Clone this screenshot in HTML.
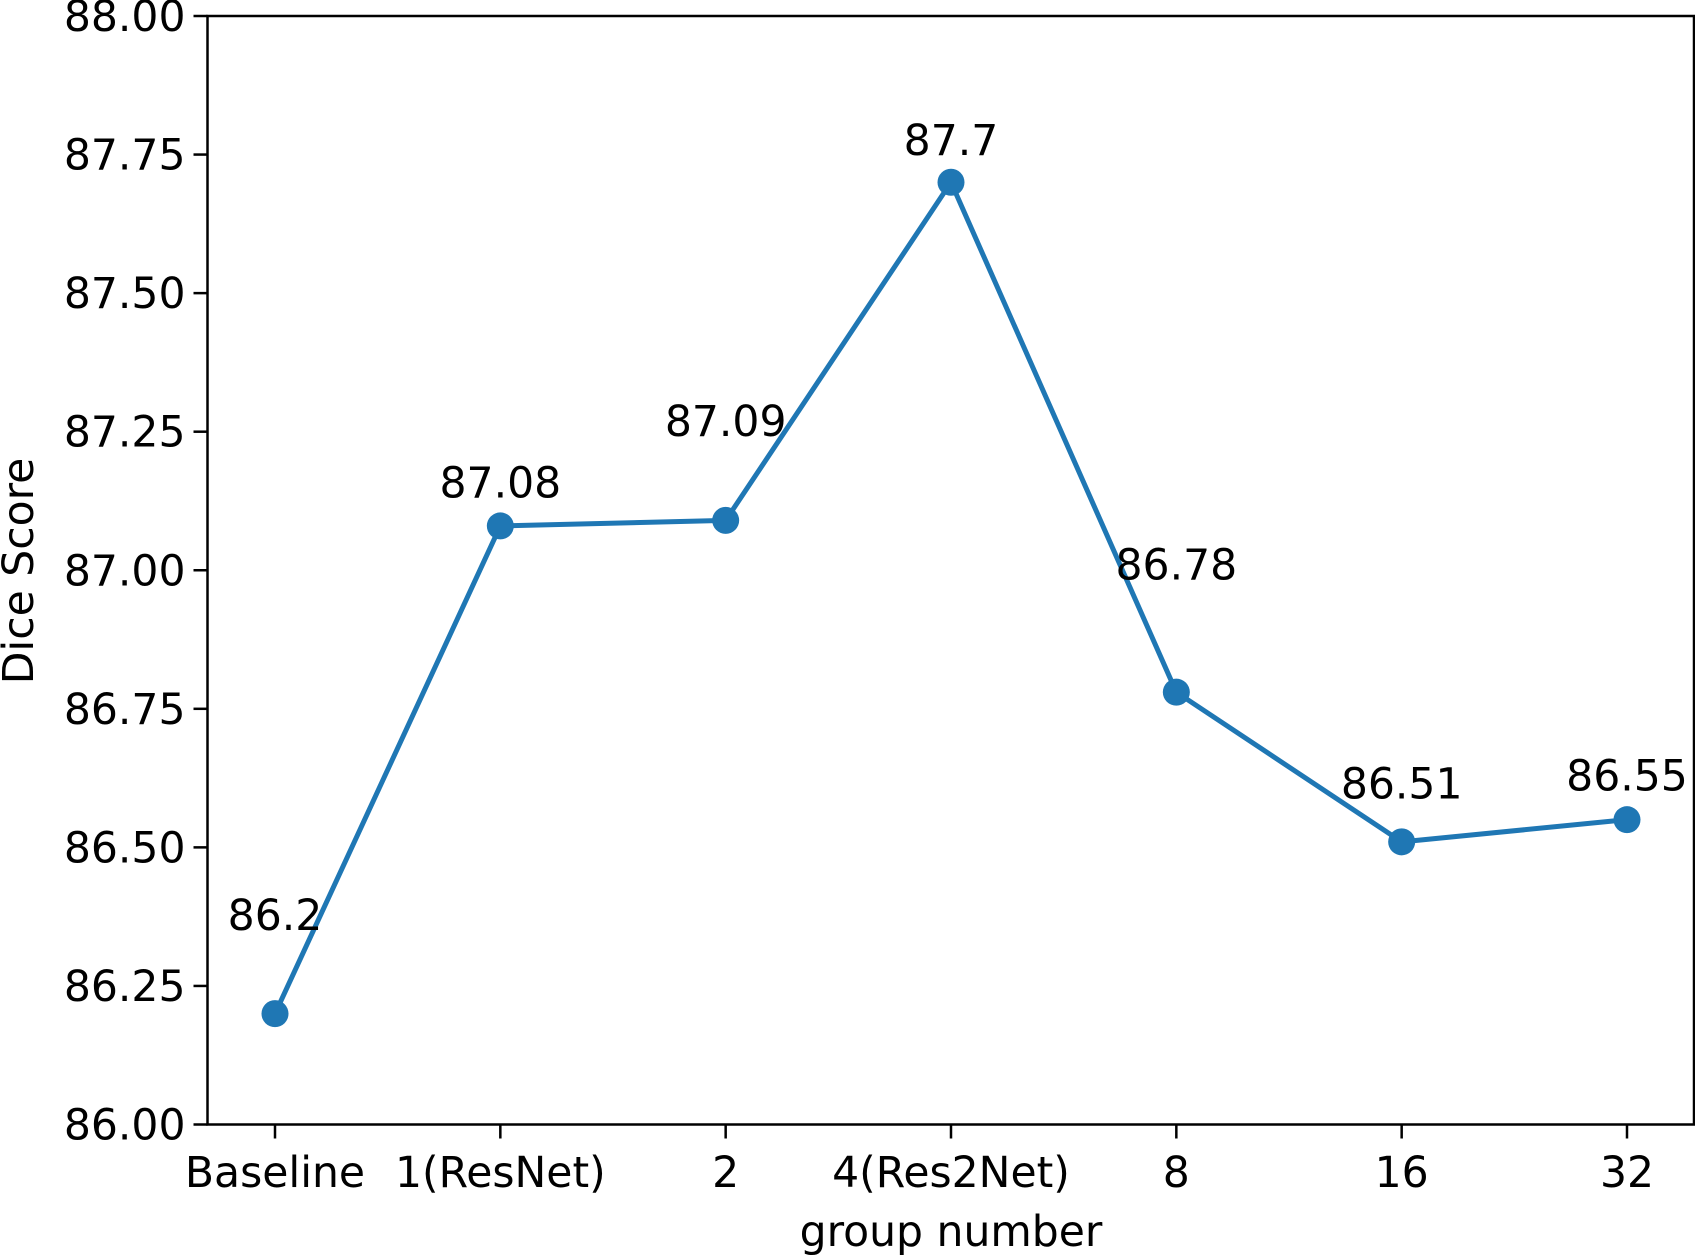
<!DOCTYPE html>
<html><head><meta charset="utf-8"><style>
html,body{margin:0;padding:0;background:#fff;}
svg{display:block;font-family:"DejaVu Sans","Liberation Sans",sans-serif;}
</style></head><body>
<svg id="chart" width="1695" height="1255" viewBox="0 0 1695 1255" xmlns="http://www.w3.org/2000/svg"></svg>
<script>
const categories = ["Baseline","1(ResNet)","2","4(Res2Net)","8","16","32"];
const diceValues = [86.2,87.08,87.09,87.7,86.78,86.51,86.55];
const valueLabels = ["86.2","87.08","87.09","87.7","86.78","86.51","86.55"];
const labelYData = [86.347,87.128,87.239,87.746,86.98,86.585,86.599];
const yTicks = [86.00,86.25,86.50,86.75,87.00,87.25,87.50,87.75,88.00];
const yTickLabels = ["86.00","86.25","86.50","86.75","87.00","87.25","87.50","87.75","88.00"];

const L=207.5,R=1694,T=16,B=1124.5, X0=275, X1=1627;
const yMin=86, yMax=88;
const sx=i=>X0+(X1-X0)*i/(categories.length-1);
const sy=v=>B-(v-yMin)/(yMax-yMin)*(B-T);
const svg=document.getElementById('chart');
const NS='http://www.w3.org/2000/svg';
function mk(tag,attrs,text){const e=document.createElementNS(NS,tag);for(const k in attrs)e.setAttribute(k,attrs[k]);if(text!==undefined)e.textContent=text;svg.appendChild(e);return e;}

yTicks.forEach((v,i)=>{
  const t=mk('line',{x1:L-14,x2:L,y1:sy(v),y2:sy(v),stroke:'#000','stroke-width':2.5});
  
  
  const lb=mk('text',{x:L-22,y:sy(v)+15,'text-anchor':'end','font-size':42.5},yTickLabels[i]);
  
  
});
categories.forEach((c,i)=>{
  const t=mk('line',{x1:sx(i),x2:sx(i),y1:B,y2:B+14,stroke:'#000','stroke-width':2.5});
  
  
  const lb=mk('text',{x:sx(i),y:1187,'text-anchor':'middle','font-size':42.5},c);
  
  
});
const frame=mk('rect',{x:L,y:T,width:R-L,height:B-T,fill:'none',stroke:'#000','stroke-width':2.5});



const pts=diceValues.map((v,i)=>sx(i)+','+sy(v)).join(' ');
const line=mk('polyline',{points:pts,fill:'none',stroke:'#1f77b4','stroke-width':5,'stroke-linejoin':'round'});


diceValues.forEach((v,i)=>{
  const c=mk('circle',{cx:sx(i),cy:sy(v),r:13.5,fill:'#1f77b4'});
  
  
  const t=mk('text',{x:sx(i),y:sy(labelYData[i])-2,'text-anchor':'middle','font-size':42.5},valueLabels[i]);
  
  
});
const xt=mk('text',{x:951,y:1246,'text-anchor':'middle','font-size':42.5},'group number');


const yt=mk('text',{x:0,y:0,'text-anchor':'middle','font-size':42.5,transform:'translate(33,571) rotate(-90)'},'Dice Score');


</script>
</body></html>
